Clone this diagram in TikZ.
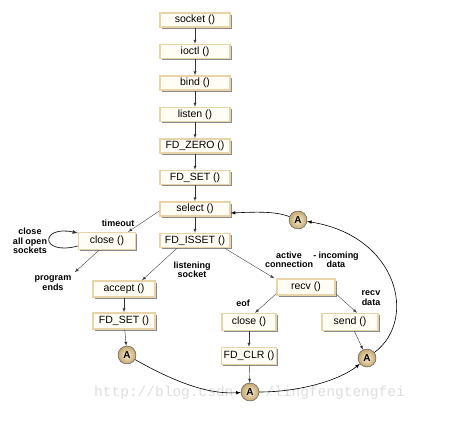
\documentclass[tikz,border=0pt]{standalone}
\usepackage{fontspec}
\setmainfont{Liberation Sans}
\setmonofont{Liberation Mono}
\usetikzlibrary{shadows}
\definecolor{boxfill}{RGB}{255,253,244}
\definecolor{boxline}{RGB}{232,212,168}
\definecolor{ballin}{RGB}{248,238,212}
\definecolor{ballout}{RGB}{196,166,108}
\begin{document}
\begin{tikzpicture}[x=1pt,y=-1pt,>=latex,
    fn/.style={draw=boxline,fill=boxfill,line width=1.4pt,minimum width=70pt,minimum height=14pt,
      inner sep=1pt,font=\fontsize{10.5}{11}\selectfont,
      drop shadow={shadow xshift=1.6pt,shadow yshift=-1.6pt,fill=black!65,opacity=.7}},
    ball/.style={circle,draw=black!70,thin,inner color=ballin,outer color=ballout,
      minimum size=18pt,inner sep=0pt,font=\bfseries\fontsize{10}{10}\selectfont},
    lbl/.style={align=center,font=\bfseries\fontsize{9}{9.5}\selectfont},
    wm/.style={text=black!13,font=\ttfamily\fontsize{14.5}{15}\selectfont}]
    \useasboundingbox(0,0) rectangle (461,433);
    \node[wm,anchor=east] (watermarkL) at (237,393) {http://blog.csdn};
    \node[wm,anchor=west] (watermarkR) at (262,393) {/lingfengtengfei};
    % main column
    \node[fn] (socket) at (195,20) {socket ()};
    \node[fn] (ioctl) at (195,51.5) {ioctl ()};
    \node[fn] (bind) at (195,83) {bind ()};
    \node[fn] (listen) at (195,114.5) {listen ()};
    \node[fn] (fdzero) at (195,146) {FD\_ZERO ()};
    \node[fn] (fdset) at (195,177.5) {FD\_SET ()};
    \node[fn] (select) at (195,209) {select ()};
    \node[fn] (fdisset) at (195,240.5) {FD\_ISSET ()};
    % side boxes
    \node[fn,minimum width=57pt,minimum height=17pt] (closeL) at (107,241) {close ()};
    \node[fn,minimum width=62pt,minimum height=16pt] (accept) at (124,289) {accept ()};
    \node[fn,minimum width=62pt,minimum height=16pt] (fdsetL) at (124,321) {FD\_SET ()};
    \node[fn,minimum width=58pt,minimum height=16pt] (recv) at (306,287) {recv ()};
    \node[fn,minimum width=54pt,minimum height=17pt] (closeR) at (249,322) {close ()};
    \node[fn,minimum width=55pt,minimum height=17pt,inner sep=0pt] (fdclr) at (249,356) {FD\_CLR ()};
    \node[fn,minimum width=56pt,minimum height=17pt] (send) at (350,322) {send ()};
    % connectors
    \node[ball] (aL) at (127,355) {A};
    \node[ball] (aB) at (250,392) {A};
    \node[ball] (aR) at (367,358) {A};
    \node[ball] (aT) at (298,220) {A};
    % labels
    \node[lbl] (timeout) at (118,223) {timeout};
    \node[lbl] (closeAll) at (30,241) {close\\all open\\sockets};
    \node[lbl] (progEnds) at (53,283) {program\\ends};
    \node[lbl] (listening) at (192,270) {listening\\socket};
    \node[lbl] (active) at (289,260) {active\\connection};
    \node[lbl] (incoming) at (336,260) {- incoming\\data};
    \node[lbl] (eof) at (243,303) {eof};
    \node[lbl] (recvData) at (371,298) {recv\\data};
    % arrows
    \foreach \a/\b in {socket/ioctl,ioctl/bind,bind/listen,listen/fdzero,fdzero/fdset,fdset/select,
      select/fdisset,accept/fdsetL,closeR/fdclr}
      \draw[->,black!80] (\a) -- (\b);
    \draw[->,black!80] (fdsetL) -- (aL);
    \draw[->,black!80] (fdclr) -- (aB);
    \draw[->,black!80] (send) -- (aR);
    \draw[->,black!75] ([yshift=-2pt]select.west) -- ([xshift=-8pt]closeL.north east);
    \draw[->,thick,black!80] ([yshift=-5pt]closeL.west) .. controls +(-38,10) and +(-38,-8) .. ([yshift=8pt]closeL.west);
    \draw[->,black!75] ([xshift=-8pt]closeL.south) -- (progEnds.north east);
    \draw[->,black!75] ([xshift=-18pt]fdisset.south) -- ([xshift=18pt]accept.north);
    \draw[->,black!75] ([xshift=-6pt]fdisset.south east) -- ([xshift=-2pt]recv.north west);
    \draw[->,black!75] ([yshift=2pt]recv.south west) -- ([xshift=6pt]closeR.north);
    \draw[->,black!75] ([yshift=2pt]recv.south east) -- ([xshift=7pt]send.north);
    \draw[->,semithick] (aL) .. controls (185,388) and (215,394) .. (aB);
    \draw[->,semithick] (aB) .. controls (300,392) and (340,380) .. (aR);
    \draw[->,semithick] (aR) .. controls (418,320) and (398,236) .. (aT);
    \draw[->,semithick] (aT) .. controls (275,211) and (255,212) .. ([yshift=-4pt]select.east);
\end{tikzpicture}
\end{document}
